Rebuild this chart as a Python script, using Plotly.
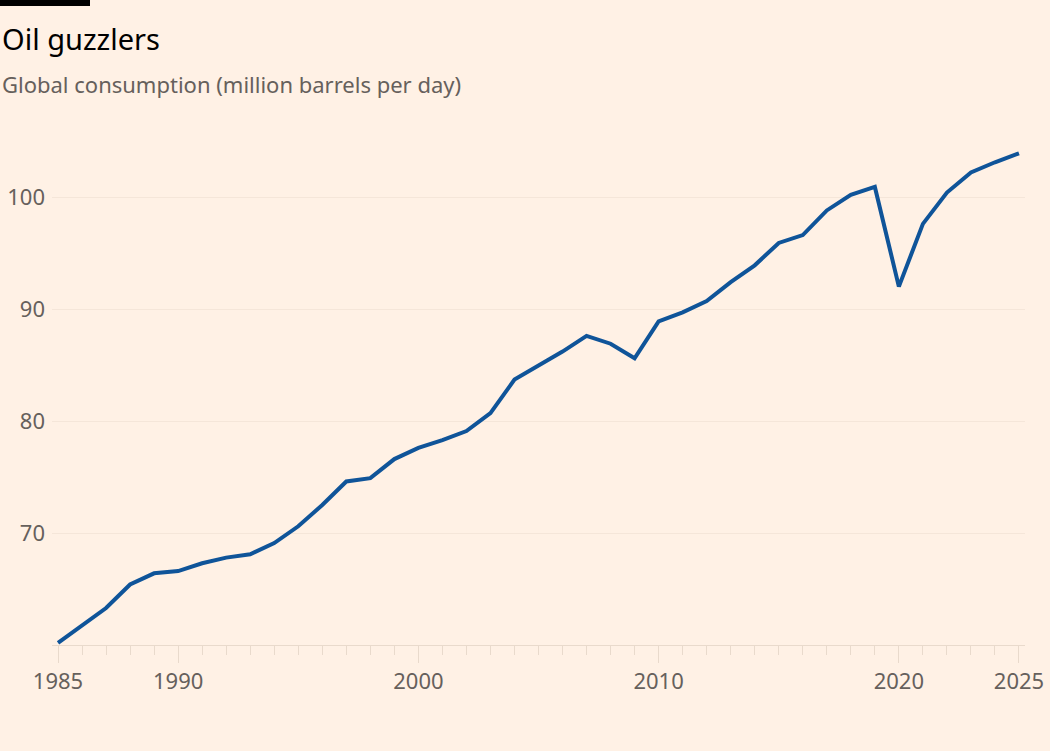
import plotly.graph_objects as go

years = list(range(1985, 2026))
consumption = [
    60.2, 61.7, 63.3, 65.4, 66.4, 66.6, 67.3, 67.8, 68.1, 69.1,
    70.6, 72.5, 74.6, 74.9, 76.6, 77.6, 78.3, 79.1, 80.7, 83.7,
    84.9, 86.2, 87.6, 86.9, 85.6, 88.9, 89.7, 90.7, 92.4, 93.9,
    95.9, 96.6, 98.8, 100.2, 100.9, 92.0, 97.6, 100.4, 102.2, 103.1,
    103.9,
]
x_tick_vals = [1985, 1990, 2000, 2010, 2020, 2025]
x_tick_text = ["1985", "1990", "2000", "2010", "2020", "2025"]
y_tick_vals = [70, 80, 90, 100]
y_tick_text = ["70", "80", "90", "100"]

title_text = "Oil guzzlers"
subtitle_text = "Global consumption (million barrels per day)"

BG = "#FFF1E5"
LINE = "#0F5499"
GREY = "#66605C"
GRID = "#F5E6D9"
AXIS = "#E9DACC"
FONT = "Noto Sans"

W, H = 1050, 751
ML, MR, MT, MB = 52, 25, 141, 106
pw = W - ML - MR
ph = H - MT - MB

fig = go.Figure()
fig.add_trace(go.Scatter(
    x=years, y=consumption, mode="lines",
    line=dict(color=LINE, width=4), hoverinfo="skip", showlegend=False,
))

fig.update_layout(
    width=W, height=H,
    paper_bgcolor=BG, plot_bgcolor=BG,
    margin=dict(l=ML, r=MR, t=MT, b=MB, autoexpand=False),
    font=dict(family=FONT, color=GREY, size=22),
    xaxis=dict(
        range=[1984.75, 2025.25], tickvals=x_tick_vals, ticktext=x_tick_text,
        showgrid=False, zeroline=False, showline=True, linecolor=AXIS, linewidth=1,
        ticks="outside", ticklen=17, tickcolor=AXIS, tickwidth=1,
        minor=dict(dtick=1, tick0=1985, ticks="outside", ticklen=9, tickcolor=AXIS, tickwidth=1, showgrid=False),
        tickfont=dict(size=22, color=GREY, family=FONT),
        automargin=False, fixedrange=True,
    ),
    yaxis=dict(
        range=[60, 105], tickvals=y_tick_vals, ticktext=y_tick_text,
        showgrid=True, gridcolor=GRID, gridwidth=1, zeroline=False, showline=False,
        ticks="", ticklabelstandoff=6,
        tickfont=dict(size=22, color=GREY, family=FONT),
        automargin=False, fixedrange=True,
    ),
    shapes=[dict(
        type="rect", xref="paper", yref="paper",
        x0=-ML / pw, x1=(90 - ML) / pw,
        y0=(H - MB - 6) / ph, y1=(H - MB) / ph,
        fillcolor="#000000", line=dict(width=0), layer="above",
    )],
    annotations=[
        dict(text=title_text, xref="paper", yref="paper",
             x=-ML / pw, y=(H - MB - 38) / ph, xanchor="left", yanchor="middle",
             showarrow=False, font=dict(size=29, color="#000000", family=FONT)),
        dict(text=subtitle_text, xref="paper", yref="paper",
             x=-ML / pw, y=(H - MB - 84) / ph, xanchor="left", yanchor="middle",
             showarrow=False, font=dict(size=22, color=GREY, family=FONT)),
    ],
)

fig.write_html(
    "out.html",
    config={"displayModeBar": False},
    post_script="document.body.style.margin='0';document.body.style.padding='0';document.body.style.overflow='hidden';",
)
